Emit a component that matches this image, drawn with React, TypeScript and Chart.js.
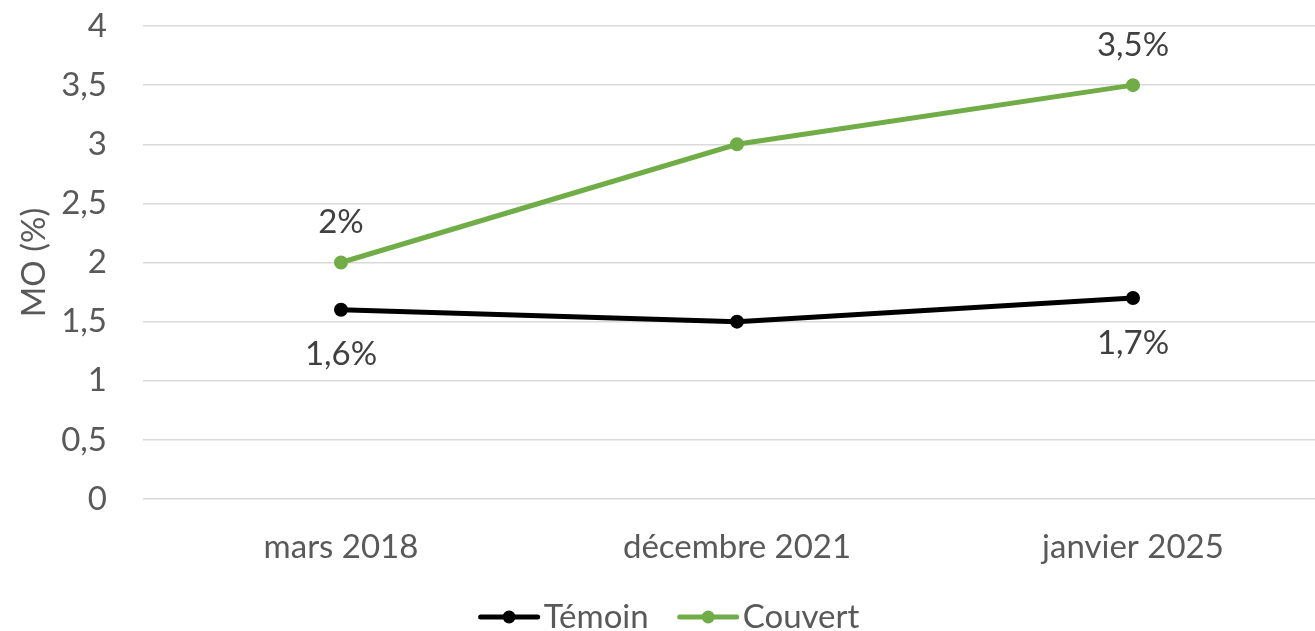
import React, { useEffect, useRef } from "react";
import { Chart, registerables } from "chart.js";

Chart.register(...registerables);

const categories = ["mars 2018", "décembre 2021", "janvier 2025"];
const temoinValues = [1.6, 1.5, 1.7];
const couvertValues = [2, 3, 3.5];
const temoinLabels = ["1,6%", "", "1,7%"];
const couvertLabels = ["2%", "", "3,5%"];
const yMin = 0;
const yMax = 4;
const yStep = 0.5;

const FONT = "Lato";
const TICK_COLOR = "#595959";
const LABEL_COLOR = "#404040";
const GREEN = "#70AD47";
const BLACK = "#000000";

const dataLabelPlugin = {
  id: "pointLabels",
  afterDatasetsDraw(chart: any) {
    const ctx = chart.ctx;
    ctx.save();
    ctx.font = `33px ${FONT}`;
    ctx.fillStyle = LABEL_COLOR;
    ctx.textAlign = "center";
    ctx.textBaseline = "middle";
    chart.data.datasets.forEach((ds: any, di: number) => {
      const meta = chart.getDatasetMeta(di);
      const labels: string[] = ds.pointLabels || [];
      meta.data.forEach((pt: any, i: number) => {
        const txt = labels[i];
        if (!txt) return;
        const dy = ds.labelPos === "above" ? -40 : 45;
        ctx.fillText(txt, pt.x, pt.y + dy);
      });
    });
    ctx.restore();
  },
};

const legendPlugin = {
  id: "customLegend",
  afterDraw(chart: any) {
    const ctx = chart.ctx;
    ctx.save();
    ctx.font = `33px ${FONT}`;
    const lineW = 57;
    const gapText = 6;
    const gapItems = 31;
    const items = chart.data.datasets.map((ds: any) => ({
      label: ds.label,
      color: ds.borderColor,
      w: lineW + gapText + ctx.measureText(ds.label).width,
    }));
    const total =
      items.reduce((s: number, it: any) => s + it.w, 0) + gapItems * (items.length - 1);
    let x = chart.width / 2 - total / 2;
    const y = 617;
    items.forEach((it: any) => {
      ctx.strokeStyle = it.color;
      ctx.lineWidth = 5;
      ctx.lineCap = "round";
      ctx.beginPath();
      ctx.moveTo(x, y);
      ctx.lineTo(x + lineW, y);
      ctx.stroke();
      ctx.fillStyle = it.color;
      ctx.beginPath();
      ctx.arc(x + lineW / 2, y, 6.5, 0, Math.PI * 2);
      ctx.fill();
      ctx.fillStyle = TICK_COLOR;
      ctx.textAlign = "left";
      ctx.textBaseline = "middle";
      ctx.fillText(it.label, x + lineW + gapText, y);
      x += it.w + gapItems;
    });
    ctx.restore();
  },
};

export default function App() {
  const canvasRef = useRef<HTMLCanvasElement | null>(null);

  useEffect(() => {
    if (!canvasRef.current) return;
    const chart = new Chart(canvasRef.current, {
      type: "line",
      data: {
        labels: categories,
        datasets: [
          {
            label: "Témoin",
            data: temoinValues,
            borderColor: BLACK,
            backgroundColor: BLACK,
            borderWidth: 5,
            pointRadius: 6,
            pointBorderWidth: 2,
            pointBackgroundColor: BLACK,
            pointBorderColor: BLACK,
            tension: 0,
            pointLabels: temoinLabels,
            labelPos: "below",
          } as any,
          {
            label: "Couvert",
            data: couvertValues,
            borderColor: GREEN,
            backgroundColor: GREEN,
            borderWidth: 5,
            pointRadius: 6,
            pointBorderWidth: 2,
            pointBackgroundColor: GREEN,
            pointBorderColor: GREEN,
            tension: 0,
            pointLabels: couvertLabels,
            labelPos: "above",
          } as any,
        ],
      },
      options: {
        animation: false,
        responsive: false,
        maintainAspectRatio: false,
        layout: { padding: { top: 26, right: 9, bottom: 61, left: 0 } },
        plugins: {
          legend: { display: false },
          tooltip: { enabled: false },
        },
        scales: {
          x: {
            type: "category",
            offset: true,
            grid: { display: false, drawTicks: false },
            border: { display: false },
            ticks: {
              color: TICK_COLOR,
              font: { family: FONT, size: 33 },
              padding: 29,
              maxRotation: 0,
            },
            afterFit: (scale: any) => {
              scale.height = 71;
            },
          },
          y: {
            min: yMin,
            max: yMax,
            grid: { color: "#D9D9D9", lineWidth: 1.5, drawTicks: false },
            border: { display: false },
            ticks: {
              stepSize: yStep,
              color: TICK_COLOR,
              font: { family: FONT, size: 33 },
              padding: 36,
              callback: (v: any) => String(v).replace(".", ","),
            },
            title: {
              display: true,
              text: "MO (%)",
              color: TICK_COLOR,
              font: { family: FONT, size: 33 },
              padding: { top: 15, bottom: 0 },
            },
            afterFit: (scale: any) => {
              scale.width = 143;
              scale.paddingTop = 0;
              scale.paddingBottom = 0;
            },
          },
        },
      },
      plugins: [dataLabelPlugin, legendPlugin],
    });
    return () => chart.destroy();
  }, []);

  return (
    <div
      style={{
        position: "fixed",
        left: 0,
        top: 0,
        width: 1315,
        height: 631,
        overflow: "hidden",
        background: "#ffffff",
      }}
    >
      <canvas
        ref={canvasRef}
        width={1340}
        height={631}
        style={{ display: "block", width: 1340, height: 631 }}
      />
    </div>
  );
}
